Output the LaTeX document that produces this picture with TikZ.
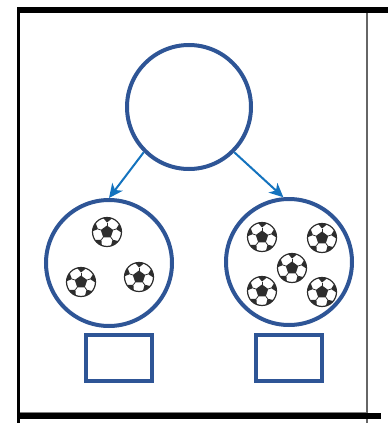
\documentclass[tikz,border=0pt]{standalone}
\usetikzlibrary{arrows.meta}
\definecolor{ringblue}{RGB}{46,85,150}
\definecolor{arrowblue}{RGB}{20,115,190}
\definecolor{seam}{RGB}{45,45,45}
\tikzset{
  ring/.style={shape=circle,draw=ringblue,line width=4pt,inner sep=0pt},
  answerbox/.style={shape=rectangle,draw=ringblue,line width=4pt,inner sep=0pt,
    minimum width=66pt,minimum height=46pt},
  football/.pic={
    \begin{scope}
      \clip (0,0) circle (14.5);
      \fill [white] (0,0) circle (14.5);
      \fill [seam] (-90:6.5) -- (-18:6.5) -- (54:6.5) -- (126:6.5) -- (198:6.5) -- cycle;
      \foreach \a in {-90,-18,54,126,198} {
        \draw [seam,line width=0.8pt] (\a:6.5) -- (\a:9.5);
        \fill [seam] (\a:9.5) -- ++(\a-40:7) -- ++(\a+10:6) -- ++(\a+90:9) -- ++(\a+170:6) -- cycle;
      }
    \end{scope}
    \draw [seam,line width=1.2pt] (0,0) circle (14.5);
  }
}
\begin{document}
\begin{tikzpicture}[>={Stealth[length=14pt,width=13pt,inset=4pt]},x=1pt,y=-1pt]
\useasboundingbox (0,0) rectangle (388,423);
% frame
\draw [gray,line width=0.8pt] (20,412) -- (367,412);
\draw [gray!80!black,line width=1.5pt] (367,13) -- (367,423);
\draw [line width=6pt] (17,10) -- (388,10);
\draw [line width=6pt] (17,416) -- (381,416);
\draw [line width=3pt] (18.5,7) -- (18.5,423);
% circles and boxes
\node (whole) at (189,107) [ring,minimum size=124pt] {};
\node  (left) at (109,263) [ring,minimum size=126pt] {};
\node (right) at (289,262) [ring,minimum size=126pt] {};
\node  (leftbox) at (119,358) [answerbox] {};
\node (rightbox) at (289,358) [answerbox] {};
\draw [->,arrowblue,line width=2pt] (whole.225) -- (left.north);
\draw [->,arrowblue,line width=2pt] (whole.315) -- (right.95);
% balls
\foreach \bx/\by in {107/232, 81/282, 139/277, 262/237, 322/238, 292/268, 262/291, 322/292}
  \pic at (\bx,\by) {football};
\end{tikzpicture}
\end{document}
